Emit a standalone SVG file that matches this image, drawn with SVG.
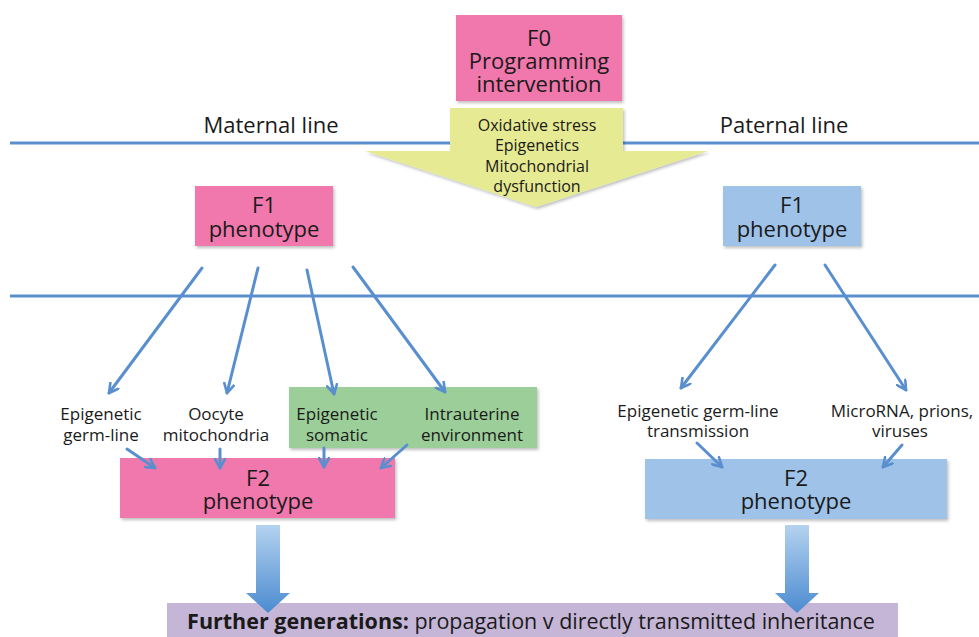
<svg xmlns="http://www.w3.org/2000/svg" width="979" height="637" viewBox="0 0 979 637">
<defs>
<filter id="sh" x="-10%" y="-10%" width="130%" height="140%">
<feDropShadow dx="1.5" dy="2" stdDeviation="1.5" flood-color="#000" flood-opacity="0.25"/>
</filter>
<linearGradient id="bg" x1="0" y1="0" x2="0" y2="1">
<stop offset="0" stop-color="#b5d3f0"/>
<stop offset="1" stop-color="#4b8bd0"/>
</linearGradient>
<marker id="ah" viewBox="0 0 12 12" refX="10" refY="6" markerWidth="12" markerHeight="12" markerUnits="userSpaceOnUse" orient="auto">
<polyline points="1,1 10,6 1,11" fill="none" stroke="#5a8fcf" stroke-width="2.6" stroke-linecap="round" stroke-linejoin="round"/>
</marker>
</defs>
<style>
text{font-family:"Open Sans","Liberation Sans",sans-serif;fill:#1a1a1a;text-anchor:middle}
.big{font-size:22px}
.lbl{font-size:17px}
.mech{font-size:16px}
.hdr{font-size:22px}
.pink{fill:#f078ac}
.blue{fill:#9ec2e8}
.conn{stroke:#5a8fcf;stroke-width:3;fill:none;stroke-linecap:round;marker-end:url(#ah)}
.rule{stroke:#5a8fcf;stroke-width:3}
</style>
<rect width="979" height="637" fill="#fff"/>
<g id="rules">
<line class="rule" x1="10" y1="143" x2="979" y2="143"/>
<line class="rule" x1="10" y1="296" x2="979" y2="296"/>
</g>
<g id="headers">
<text class="hdr" x="271" y="133">Maternal line</text>
<text class="hdr" x="784" y="133">Paternal line</text>
</g>
<g id="f0">
<rect class="pink" x="456" y="15" width="166" height="86" filter="url(#sh)"/>
<text class="big" x="539" y="46">F0</text>
<text class="big" x="539" y="69">Programming</text>
<text class="big" x="539" y="92">intervention</text>
</g>
<g id="mechanisms">
<polygon points="450,108 623,108 623,151 708,151 536,207 365,151 450,151" fill="#e6ea92" filter="url(#sh)"/>
<text class="mech" x="537" y="131">Oxidative stress</text>
<text class="mech" x="537" y="151">Epigenetics</text>
<text class="mech" x="537" y="172">Mitochondrial</text>
<text class="mech" x="537" y="192">dysfunction</text>
</g>
<g id="f1-maternal">
<rect class="pink" x="195" y="186" width="138" height="60" filter="url(#sh)"/>
<text class="big" x="264" y="213">F1</text>
<text class="big" x="264" y="237">phenotype</text>
</g>
<g id="f1-paternal">
<rect class="blue" x="723" y="186" width="138" height="60" filter="url(#sh)"/>
<text class="big" x="792" y="213">F1</text>
<text class="big" x="792" y="237">phenotype</text>
</g>
<g id="somatic-box">
<rect x="289" y="387" width="248" height="61" fill="#9bce98" filter="url(#sh)"/>
</g>
<g id="lbl-germline">
<text class="lbl" x="101" y="420">Epigenetic</text>
<text class="lbl" x="101" y="441">germ-line</text>
</g>
<g id="lbl-oocyte">
<text class="lbl" x="216" y="420">Oocyte</text>
<text class="lbl" x="216" y="441">mitochondria</text>
</g>
<g id="lbl-somatic">
<text class="lbl" x="337" y="420">Epigenetic</text>
<text class="lbl" x="337" y="441">somatic</text>
</g>
<g id="lbl-intrauterine">
<text class="lbl" x="472" y="420">Intrauterine</text>
<text class="lbl" x="472" y="441">environment</text>
</g>
<g id="lbl-pgermline">
<text class="lbl" x="698" y="417">Epigenetic germ-line</text>
<text class="lbl" x="698" y="437">transmission</text>
</g>
<g id="lbl-microrna">
<text class="lbl" x="902" y="417">MicroRNA, prions,</text>
<text class="lbl" x="900" y="437">viruses</text>
</g>
<g id="f2-maternal">
<rect class="pink" x="120" y="458" width="275" height="60" filter="url(#sh)"/>
<text class="big" x="258" y="486">F2</text>
<text class="big" x="258" y="509">phenotype</text>
</g>
<g id="f2-paternal">
<rect class="blue" x="645" y="459" width="302" height="60" filter="url(#sh)"/>
<text class="big" x="796" y="486">F2</text>
<text class="big" x="796" y="509">phenotype</text>
</g>
<g id="further">
<rect x="167" y="603" width="731" height="34" fill="#c5b6d8"/>
<text x="531" y="629" style="font-size:21.5px"><tspan font-weight="bold">Further generations:</tspan> propagation v directly transmitted inheritance</text>
</g>
<g id="connectors">
<line class="conn" x1="202" y1="268" x2="109" y2="393"/>
<line class="conn" x1="258" y1="268" x2="227" y2="393"/>
<line class="conn" x1="307" y1="270" x2="334" y2="394"/>
<line class="conn" x1="353" y1="267" x2="445" y2="392"/>
<line class="conn" x1="775" y1="265" x2="681" y2="388"/>
<line class="conn" x1="825" y1="265" x2="906" y2="390"/>
<line class="conn" x1="127" y1="449" x2="155" y2="468"/>
<line class="conn" x1="220" y1="449" x2="220" y2="468"/>
<line class="conn" x1="324" y1="448" x2="324" y2="467"/>
<line class="conn" x1="407" y1="445" x2="381" y2="468"/>
<line class="conn" x1="697" y1="443" x2="722" y2="467"/>
<line class="conn" x1="902" y1="445" x2="883" y2="467"/>
<polygon points="256,525 280,525 280,593 290,593 268,613 246,593 256,593" fill="url(#bg)"/>
<polygon points="785,525 809,525 809,593 819,593 797,613 775,593 785,593" fill="url(#bg)"/>
</g>
</svg>
